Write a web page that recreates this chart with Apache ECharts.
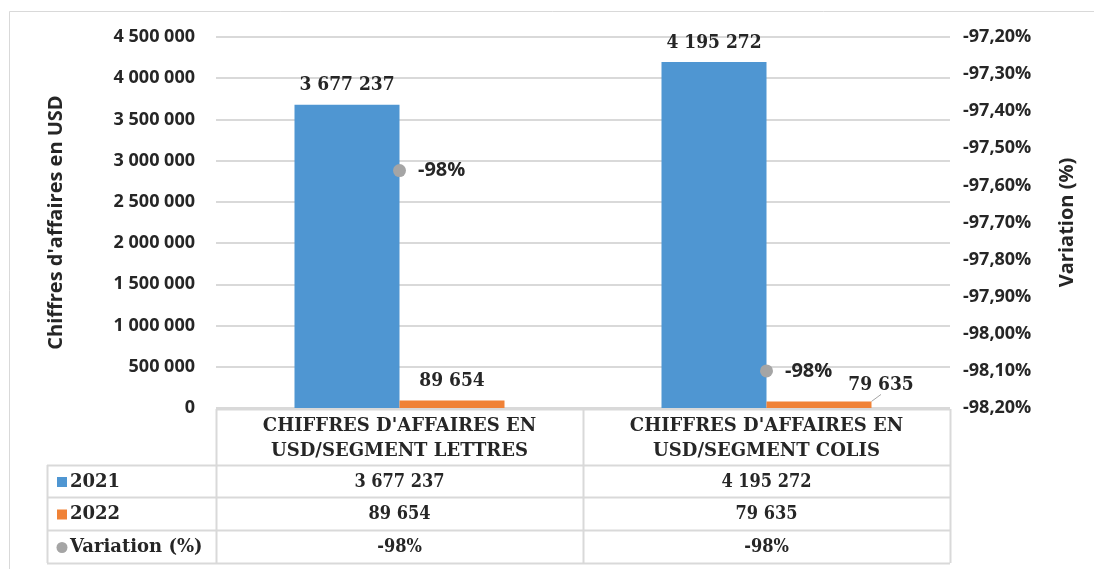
<!DOCTYPE html>
<html>
<head>
<meta charset="utf-8">
<script src="https://cdn.jsdelivr.net/npm/echarts@6/dist/echarts.min.js"></script>
<style>
html,body{margin:0;padding:0;background:#fff;}
#c{width:1094px;height:569px;}
</style>
</head>
<body>
<div id="c"></div>
<script>
// ---- data ----
var categories = ["CHIFFRES D'AFFAIRES EN\nUSD/SEGMENT LETTRES", "CHIFFRES D'AFFAIRES EN\nUSD/SEGMENT COLIS"];
var seriesNames = ['2021', '2022', 'Variation (%)'];
var sales2021 = [3677237, 4195272];
var sales2022 = [89654, 79635];
var variation = [-97.56, -98.10];          // in %
var leftTicks = { min: 0, max: 4500000, interval: 500000 };
var rightTicks = { min: -98.2, max: -97.2, interval: 0.1 };
var leftAxisTitle = "Chiffres d'affaires en USD";
var rightAxisTitle = 'Variation (%)';

// ---- styles ----
var BLUE = '#4f96d2', ORANGE = '#f08237', GREY = '#a5a5a5', TXT = '#262626', LINE = '#d9d9d9';
var SANS = '"Open Sans", "Noto Sans", sans-serif';
var SLABC = '"DejaVu Serif Condensed", "DejaVu Serif", serif';
var SLAB = '"DejaVu Serif", serif';

function fmt(n) { return String(n).replace(/\B(?=(\d{3})+(?!\d))/g, ' '); }
function fmtPctRound(v) { return Math.round(v) + '%'; }

var chart = echarts.init(document.getElementById('c'), null, { renderer: 'canvas' });

// table layout
var T = { left: 47, c0: 216, c1: 583, c2: 950, top: 409, rows: [465, 497, 530, 563] };

var graphics = [];
graphics.push({ type: 'rect', shape: { x: 9.5, y: 11.5, width: 1200, height: 700 }, style: { fill: 'none', stroke: LINE, lineWidth: 1 }, silent: true, z: 0 });
function hline(x1, x2, y) { graphics.push({ type: 'line', shape: { x1: x1, y1: y + 0.5, x2: x2, y2: y + 0.5 }, style: { stroke: LINE, lineWidth: 2 }, z: 5 }); }
function vline(x, y1, y2) { graphics.push({ type: 'line', shape: { x1: x + 0.5, y1: y1, x2: x + 0.5, y2: y2 }, style: { stroke: LINE, lineWidth: 2 }, z: 5 }); }
hline(T.c0, T.c2, T.top);
T.rows.forEach(function (y) { hline(T.left, T.c2, y); });
vline(T.c0, T.top, T.rows[3]);
vline(T.c1, T.top, T.rows[3]);
vline(T.c2, T.top, T.rows[3]);
vline(T.left, T.rows[0], T.rows[3]);

var rowData = [
  { name: seriesNames[0], vals: sales2021.map(fmt), color: BLUE, marker: 'rect' },
  { name: seriesNames[1], vals: sales2022.map(fmt), color: ORANGE, marker: 'rect' },
  { name: seriesNames[2], vals: variation.map(fmtPctRound), color: GREY, marker: 'circle' }
];
var colCenters = [(T.c0 + T.c1) / 2, (T.c1 + T.c2) / 2];
rowData.forEach(function (r, i) {
  var yc = (T.rows[i] + T.rows[i + 1]) / 2 + 1;
  if (r.marker === 'rect') {
    graphics.push({ type: 'rect', shape: { x: 57, y: yc - 5, width: 10, height: 10 }, style: { fill: r.color }, z: 6 });
  } else {
    graphics.push({ type: 'circle', shape: { cx: 62, cy: yc, r: 5.5 }, style: { fill: r.color }, z: 6 });
  }
  graphics.push({ type: 'text', x: 70, y: yc, style: { text: r.name, font: 'bold 18px ' + SLAB, fill: TXT, textVerticalAlign: 'middle', textAlign: 'left' }, z: 6 });
  r.vals.forEach(function (v, j) {
    graphics.push({ type: 'text', x: colCenters[j], y: yc, style: { text: v, font: 'bold 18px ' + SLABC, fill: TXT, textVerticalAlign: 'middle', textAlign: 'center' }, z: 6 });
  });
});

var barLabel = { show: true, position: 'top', distance: 10, fontFamily: SLABC, fontWeight: 'bold', fontSize: 19, color: TXT, formatter: function (p) { return fmt(p.value); } };

var option = {
  backgroundColor: '#fff',
  animation: false,
  grid: { left: 216, right: 144, top: 37, bottom: 161, containLabel: false },
  legend: { show: false },
  xAxis: {
    type: 'category',
    data: categories,
    axisLine: { show: false },
    axisTick: { show: false },
    axisLabel: { margin: 6, fontFamily: SLAB, fontWeight: 'bold', fontSize: 18, color: TXT, lineHeight: 25, interval: 0 }
  },
  yAxis: [
    {
      type: 'value', min: leftTicks.min, max: leftTicks.max, interval: leftTicks.interval,
      name: leftAxisTitle, nameLocation: 'middle', nameGap: 150,
      nameTextStyle: { fontFamily: SANS, fontWeight: 'bold', fontSize: 20, color: TXT },
      axisLine: { show: false }, axisTick: { show: false },
      axisLabel: { margin: 21, fontFamily: SANS, fontWeight: 'bold', fontSize: 18, color: TXT, formatter: function (v) { return fmt(v); } },
      splitLine: { lineStyle: { color: LINE, width: 2 } }
    },
    {
      type: 'value', min: rightTicks.min, max: rightTicks.max, interval: rightTicks.interval,
      name: rightAxisTitle, nameLocation: 'middle', nameGap: 107,
      nameTextStyle: { fontFamily: SANS, fontWeight: 'bold', fontSize: 20, color: TXT },
      axisLine: { show: false }, axisTick: { show: false },
      axisLabel: { margin: 13, fontFamily: SANS, fontWeight: 'bold', fontSize: 18, color: TXT, formatter: function (v) { return v.toFixed(2).replace('.', ',') + '%'; } },
      splitLine: { show: false }
    }
  ],
  series: [
    {
      name: seriesNames[0], type: 'bar', data: sales2021, barWidth: 105, barGap: '0%',
      itemStyle: { color: BLUE },
      label: barLabel
    },
    {
      name: seriesNames[1], type: 'bar', barWidth: 105,
      data: sales2022.map(function (v, i) { return i === 1 ? { value: v, labelLine: { show: true } } : v; }),
      itemStyle: { color: ORANGE },
      label: barLabel,
      labelLayout: function (p) { return p.dataIndex === 1 ? { dx: 62, dy: 3 } : {}; },
      labelLine: { show: false, lineStyle: { color: GREY, width: 1 } }
    },
    {
      name: seriesNames[2], type: 'line', yAxisIndex: 1, data: variation,
      symbol: 'circle', symbolSize: 13, itemStyle: { color: GREY },
      lineStyle: { opacity: 0 },
      label: { show: true, position: 'right', distance: 12, fontFamily: SANS, fontWeight: 'bold', fontSize: 20, color: TXT, formatter: function (p) { return fmtPctRound(p.value); } },
      z: 4
    }
  ],
  graphic: graphics
};
chart.setOption(option);
</script>
</body>
</html>
